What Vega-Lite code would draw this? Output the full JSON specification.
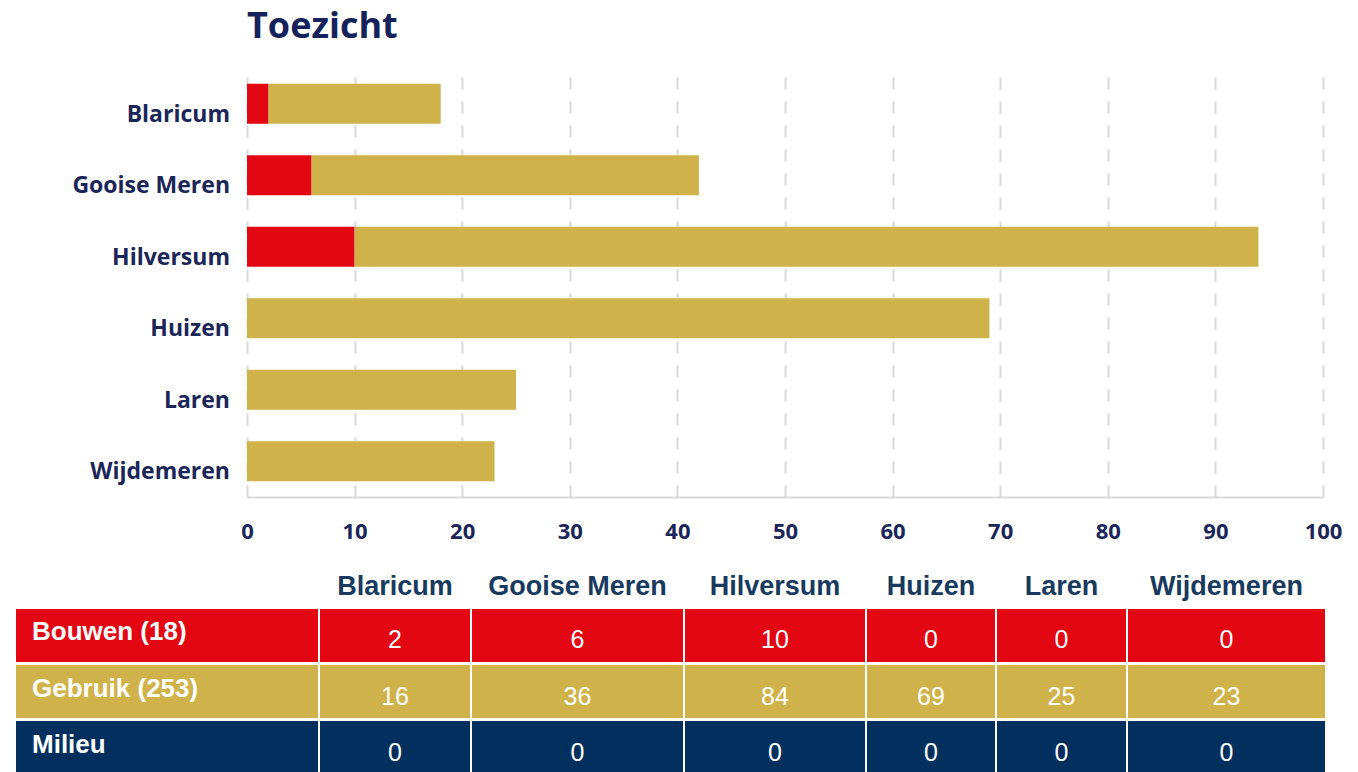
{
  "$schema": "https://vega.github.io/schema/vega-lite/v6.json",
  "padding": {"left": 16, "top": 9, "right": 0, "bottom": 0},
  "background": "white",
  "config": {"view": {"stroke": null}, "font": "Open Sans"},
  "datasets": {
    "toezicht": [
      {"gemeente": "Blaricum", "categorie": "Bouwen (18)", "waarde": 2},
      {"gemeente": "Blaricum", "categorie": "Gebruik (253)", "waarde": 16},
      {"gemeente": "Blaricum", "categorie": "Milieu", "waarde": 0},
      {"gemeente": "Gooise Meren", "categorie": "Bouwen (18)", "waarde": 6},
      {"gemeente": "Gooise Meren", "categorie": "Gebruik (253)", "waarde": 36},
      {"gemeente": "Gooise Meren", "categorie": "Milieu", "waarde": 0},
      {"gemeente": "Hilversum", "categorie": "Bouwen (18)", "waarde": 10},
      {"gemeente": "Hilversum", "categorie": "Gebruik (253)", "waarde": 84},
      {"gemeente": "Hilversum", "categorie": "Milieu", "waarde": 0},
      {"gemeente": "Huizen", "categorie": "Bouwen (18)", "waarde": 0},
      {"gemeente": "Huizen", "categorie": "Gebruik (253)", "waarde": 69},
      {"gemeente": "Huizen", "categorie": "Milieu", "waarde": 0},
      {"gemeente": "Laren", "categorie": "Bouwen (18)", "waarde": 0},
      {"gemeente": "Laren", "categorie": "Gebruik (253)", "waarde": 25},
      {"gemeente": "Laren", "categorie": "Milieu", "waarde": 0},
      {"gemeente": "Wijdemeren", "categorie": "Bouwen (18)", "waarde": 0},
      {"gemeente": "Wijdemeren", "categorie": "Gebruik (253)", "waarde": 23},
      {"gemeente": "Wijdemeren", "categorie": "Milieu", "waarde": 0}
    ],
    "gemeenten": [
      {"gemeente": "Blaricum"},
      {"gemeente": "Gooise Meren"},
      {"gemeente": "Hilversum"},
      {"gemeente": "Huizen"},
      {"gemeente": "Laren"},
      {"gemeente": "Wijdemeren"}
    ],
    "categorieen": [
      {"categorie": "Bouwen (18)", "kolom": ""},
      {"categorie": "Gebruik (253)", "kolom": ""},
      {"categorie": "Milieu", "kolom": ""}
    ]
  },
  "columns": 1,
  "align": "none",
  "spacing": 17,
  "concat": [
    {
      "spacing": 10,
      "hconcat": [
        {
          "width": 214,
          "height": 429,
          "data": {"name": "gemeenten"},
          "mark": {"type": "text", "align": "right", "baseline": "alphabetic", "dy": 18, "font": "Open Sans", "fontSize": 23, "fontWeight": "bold", "color": "#1b2557"},
          "encoding": {
            "x": {"value": "width"},
            "y": {"field": "gemeente", "type": "nominal", "scale": {"paddingInner": 0.44, "paddingOuter": 0.22}, "axis": null},
            "text": {"field": "gemeente", "type": "nominal"}
          }
        },
        {
          "data": {"name": "toezicht"},
          "title": {"text": "Toezicht", "anchor": "start", "frame": "group", "font": "Open Sans", "fontSize": 36, "fontWeight": "bold", "color": "#14215a", "baseline": "alphabetic", "offset": -6},
          "width": 1076,
          "height": 429,
          "mark": {"type": "bar"},
          "encoding": {
            "y": {"field": "gemeente", "type": "nominal", "scale": {"paddingInner": 0.44, "paddingOuter": 0.22}, "axis": null},
            "x": {"field": "waarde", "type": "quantitative", "stack": "zero", "scale": {"domain": [0, 100], "nice": false},
              "axis": {"title": null, "values": [0, 10, 20, 30, 40, 50, 60, 70, 80, 90, 100], "grid": true, "gridColor": "#d9d9d9", "gridDash": [12, 12], "gridWidth": 2, "domainColor": "#d9d9d9", "domainWidth": 2, "ticks": false, "labelFont": "Open Sans", "labelFontSize": 22, "labelFontWeight": "bold", "labelColor": "#1b2557", "labelPadding": 24, "labelFlush": false, "labelOverlap": false, "minExtent": 50, "maxExtent": 50}},
            "color": {"field": "categorie", "type": "nominal", "scale": {"domain": ["Bouwen (18)", "Gebruik (253)", "Milieu"], "range": ["#e30613", "#cfb249", "#02305e"]}, "legend": null}
          }
        }
      ]
    },
    {
      "spacing": 2,
      "hconcat": [
        {
          "width": 302, "height": 165,
          "data": {"name": "categorieen"},
          "encoding": {
            "y": {"field": "categorie", "type": "nominal", "sort": ["Bouwen (18)", "Gebruik (253)", "Milieu"], "scale": {"paddingInner": 0.0536, "paddingOuter": 0}, "axis": null}
          },
          "layer": [
            {"mark": {"type": "rect"},
             "encoding": {
               "x": {"field": "kolom", "type": "nominal", "scale": {"paddingInner": 0, "paddingOuter": 0}, "axis": {"orient": "top", "title": null, "domain": false, "ticks": false, "labelAngle": 0, "labelFont": "Liberation Sans", "labelFontSize": 27, "labelFontWeight": "bold", "labelColor": "#173a5e", "labelPadding": 15, "labelBaseline": "alphabetic", "minExtent": 45, "maxExtent": 45}},
               "color": {"field": "categorie", "type": "nominal", "scale": {"domain": ["Bouwen (18)", "Gebruik (253)", "Milieu"], "range": ["#e30613", "#cfb249", "#02305e"]}, "legend": null}}},
            {"mark": {"type": "text", "align": "left", "dx": 16, "dy": -3, "font": "Liberation Sans", "fontSize": 26, "fontWeight": "bold", "color": "white"},
             "encoding": {
               "x": {"field": "kolom", "type": "nominal", "bandPosition": 0, "axis": {"orient": "top", "title": null, "domain": false, "ticks": false, "labelAngle": 0, "labelFont": "Liberation Sans", "labelFontSize": 27, "labelFontWeight": "bold", "labelColor": "#173a5e", "labelPadding": 15, "labelBaseline": "alphabetic", "minExtent": 45, "maxExtent": 45}},
               "text": {"field": "categorie", "type": "nominal"}}}
          ]
        },
        {
          "width": 150, "height": 165,
          "data": {"name": "toezicht"},
          "transform": [{"filter": {"field": "gemeente", "equal": "Blaricum"}}],
          "encoding": {
            "x": {"field": "gemeente", "type": "nominal", "scale": {"paddingInner": 0, "paddingOuter": 0}, "axis": {"orient": "top", "title": null, "domain": false, "ticks": false, "labelAngle": 0, "labelFont": "Liberation Sans", "labelFontSize": 27, "labelFontWeight": "bold", "labelColor": "#173a5e", "labelPadding": 15, "labelBaseline": "alphabetic", "minExtent": 45, "maxExtent": 45}},
            "y": {"field": "categorie", "type": "nominal", "sort": ["Bouwen (18)", "Gebruik (253)", "Milieu"], "scale": {"paddingInner": 0.0536, "paddingOuter": 0}, "axis": null}
          },
          "layer": [
            {"mark": {"type": "rect"}, "encoding": {"color": {"field": "categorie", "type": "nominal", "scale": {"domain": ["Bouwen (18)", "Gebruik (253)", "Milieu"], "range": ["#e30613", "#cfb249", "#02305e"]}, "legend": null}}},
            {"mark": {"type": "text", "dy": 5, "font": "Liberation Sans", "fontSize": 25, "color": "white"}, "encoding": {"text": {"field": "waarde", "type": "quantitative"}}}
          ]
        },
        {
          "width": 211, "height": 165,
          "data": {"name": "toezicht"},
          "transform": [{"filter": {"field": "gemeente", "equal": "Gooise Meren"}}],
          "encoding": {
            "x": {"field": "gemeente", "type": "nominal", "scale": {"paddingInner": 0, "paddingOuter": 0}, "axis": {"orient": "top", "title": null, "domain": false, "ticks": false, "labelAngle": 0, "labelFont": "Liberation Sans", "labelFontSize": 27, "labelFontWeight": "bold", "labelColor": "#173a5e", "labelPadding": 15, "labelBaseline": "alphabetic", "minExtent": 45, "maxExtent": 45}},
            "y": {"field": "categorie", "type": "nominal", "sort": ["Bouwen (18)", "Gebruik (253)", "Milieu"], "scale": {"paddingInner": 0.0536, "paddingOuter": 0}, "axis": null}
          },
          "layer": [
            {"mark": {"type": "rect"}, "encoding": {"color": {"field": "categorie", "type": "nominal", "scale": {"domain": ["Bouwen (18)", "Gebruik (253)", "Milieu"], "range": ["#e30613", "#cfb249", "#02305e"]}, "legend": null}}},
            {"mark": {"type": "text", "dy": 5, "font": "Liberation Sans", "fontSize": 25, "color": "white"}, "encoding": {"text": {"field": "waarde", "type": "quantitative"}}}
          ]
        },
        {
          "width": 180, "height": 165,
          "data": {"name": "toezicht"},
          "transform": [{"filter": {"field": "gemeente", "equal": "Hilversum"}}],
          "encoding": {
            "x": {"field": "gemeente", "type": "nominal", "scale": {"paddingInner": 0, "paddingOuter": 0}, "axis": {"orient": "top", "title": null, "domain": false, "ticks": false, "labelAngle": 0, "labelFont": "Liberation Sans", "labelFontSize": 27, "labelFontWeight": "bold", "labelColor": "#173a5e", "labelPadding": 15, "labelBaseline": "alphabetic", "minExtent": 45, "maxExtent": 45}},
            "y": {"field": "categorie", "type": "nominal", "sort": ["Bouwen (18)", "Gebruik (253)", "Milieu"], "scale": {"paddingInner": 0.0536, "paddingOuter": 0}, "axis": null}
          },
          "layer": [
            {"mark": {"type": "rect"}, "encoding": {"color": {"field": "categorie", "type": "nominal", "scale": {"domain": ["Bouwen (18)", "Gebruik (253)", "Milieu"], "range": ["#e30613", "#cfb249", "#02305e"]}, "legend": null}}},
            {"mark": {"type": "text", "dy": 5, "font": "Liberation Sans", "fontSize": 25, "color": "white"}, "encoding": {"text": {"field": "waarde", "type": "quantitative"}}}
          ]
        },
        {
          "width": 128, "height": 165,
          "data": {"name": "toezicht"},
          "transform": [{"filter": {"field": "gemeente", "equal": "Huizen"}}],
          "encoding": {
            "x": {"field": "gemeente", "type": "nominal", "scale": {"paddingInner": 0, "paddingOuter": 0}, "axis": {"orient": "top", "title": null, "domain": false, "ticks": false, "labelAngle": 0, "labelFont": "Liberation Sans", "labelFontSize": 27, "labelFontWeight": "bold", "labelColor": "#173a5e", "labelPadding": 15, "labelBaseline": "alphabetic", "minExtent": 45, "maxExtent": 45}},
            "y": {"field": "categorie", "type": "nominal", "sort": ["Bouwen (18)", "Gebruik (253)", "Milieu"], "scale": {"paddingInner": 0.0536, "paddingOuter": 0}, "axis": null}
          },
          "layer": [
            {"mark": {"type": "rect"}, "encoding": {"color": {"field": "categorie", "type": "nominal", "scale": {"domain": ["Bouwen (18)", "Gebruik (253)", "Milieu"], "range": ["#e30613", "#cfb249", "#02305e"]}, "legend": null}}},
            {"mark": {"type": "text", "dy": 5, "font": "Liberation Sans", "fontSize": 25, "color": "white"}, "encoding": {"text": {"field": "waarde", "type": "quantitative"}}}
          ]
        },
        {
          "width": 129, "height": 165,
          "data": {"name": "toezicht"},
          "transform": [{"filter": {"field": "gemeente", "equal": "Laren"}}],
          "encoding": {
            "x": {"field": "gemeente", "type": "nominal", "scale": {"paddingInner": 0, "paddingOuter": 0}, "axis": {"orient": "top", "title": null, "domain": false, "ticks": false, "labelAngle": 0, "labelFont": "Liberation Sans", "labelFontSize": 27, "labelFontWeight": "bold", "labelColor": "#173a5e", "labelPadding": 15, "labelBaseline": "alphabetic", "minExtent": 45, "maxExtent": 45}},
            "y": {"field": "categorie", "type": "nominal", "sort": ["Bouwen (18)", "Gebruik (253)", "Milieu"], "scale": {"paddingInner": 0.0536, "paddingOuter": 0}, "axis": null}
          },
          "layer": [
            {"mark": {"type": "rect"}, "encoding": {"color": {"field": "categorie", "type": "nominal", "scale": {"domain": ["Bouwen (18)", "Gebruik (253)", "Milieu"], "range": ["#e30613", "#cfb249", "#02305e"]}, "legend": null}}},
            {"mark": {"type": "text", "dy": 5, "font": "Liberation Sans", "fontSize": 25, "color": "white"}, "encoding": {"text": {"field": "waarde", "type": "quantitative"}}}
          ]
        },
        {
          "width": 197, "height": 165,
          "data": {"name": "toezicht"},
          "transform": [{"filter": {"field": "gemeente", "equal": "Wijdemeren"}}],
          "encoding": {
            "x": {"field": "gemeente", "type": "nominal", "scale": {"paddingInner": 0, "paddingOuter": 0}, "axis": {"orient": "top", "title": null, "domain": false, "ticks": false, "labelAngle": 0, "labelFont": "Liberation Sans", "labelFontSize": 27, "labelFontWeight": "bold", "labelColor": "#173a5e", "labelPadding": 15, "labelBaseline": "alphabetic", "minExtent": 45, "maxExtent": 45}},
            "y": {"field": "categorie", "type": "nominal", "sort": ["Bouwen (18)", "Gebruik (253)", "Milieu"], "scale": {"paddingInner": 0.0536, "paddingOuter": 0}, "axis": null}
          },
          "layer": [
            {"mark": {"type": "rect"}, "encoding": {"color": {"field": "categorie", "type": "nominal", "scale": {"domain": ["Bouwen (18)", "Gebruik (253)", "Milieu"], "range": ["#e30613", "#cfb249", "#02305e"]}, "legend": null}}},
            {"mark": {"type": "text", "dy": 5, "font": "Liberation Sans", "fontSize": 25, "color": "white"}, "encoding": {"text": {"field": "waarde", "type": "quantitative"}}}
          ]
        }
      ]
    }
  ]
}
